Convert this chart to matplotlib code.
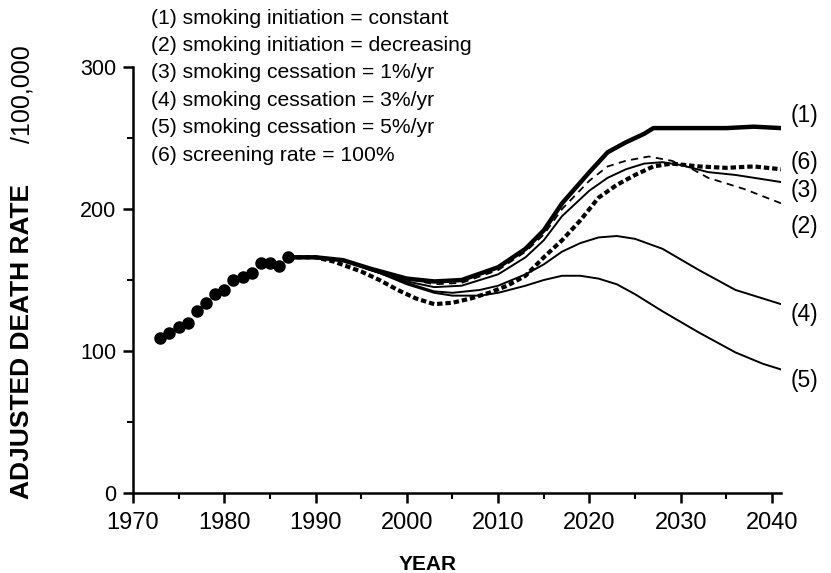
import matplotlib.pyplot as plt
from matplotlib.ticker import MultipleLocator

plt.rcParams['font.family'] = ['Liberation Sans', 'DejaVu Sans']

# observed rates (dots)
obs_years = [1973, 1974, 1975, 1976, 1977, 1978, 1979, 1980, 1981, 1982, 1983, 1984, 1985, 1986, 1987]
obs_rate = [109, 113, 117, 120, 128, 134, 140, 143, 150, 152, 155, 162, 162, 160, 166]

# (1) initiation constant
y1_years = [1987, 1990, 1993, 1996, 2000, 2003, 2006, 2010, 2013, 2015, 2017, 2020, 2022, 2024, 2026, 2027, 2030, 2035, 2038, 2041]
y1_rate = [166, 166, 164, 158, 151, 149, 150, 159, 172, 185, 204, 226, 240, 247, 253, 257, 257, 257, 258, 257]

# (2) initiation decreasing
y2_years = [1987, 1990, 1993, 1996, 2000, 2003, 2006, 2010, 2013, 2015, 2017, 2020, 2022, 2024, 2026.5, 2029, 2031, 2033, 2037, 2041]
y2_rate = [166, 166, 164, 158, 151, 147, 148, 157, 170, 182, 200, 220, 230, 234, 237, 234, 229, 222, 214, 204]

# (3) cessation 1%/yr
y3_years = [1987, 1990, 1993, 1996, 2000, 2003, 2006, 2010, 2013, 2015, 2017, 2020, 2022, 2024, 2026, 2028, 2030, 2033, 2036, 2041]
y3_rate = [166, 166, 164, 157, 149, 145, 146, 154, 166, 178, 195, 213, 222, 228, 232, 233, 231, 226, 224, 219]

# (4) cessation 3%/yr
y4_years = [1987, 1990, 1993, 1997, 2000, 2003, 2005, 2008, 2010, 2013, 2015, 2017, 2019, 2021, 2023, 2025, 2028, 2032, 2036, 2041]
y4_rate = [166, 166, 164, 155, 148, 142, 141, 143, 146, 154, 161, 170, 176, 180, 181, 179, 172, 157, 143, 133]

# (5) cessation 5%/yr
y5_years = [1987, 1990, 1993, 1997, 2000, 2003, 2005, 2008, 2010, 2013, 2015, 2017, 2019, 2021, 2023, 2025, 2028, 2032, 2036, 2039, 2041]
y5_rate = [166, 166, 164, 155, 147, 141, 139, 139, 141, 146, 150, 153, 153, 151, 147, 140, 128, 113, 99, 91, 87]

# (6) screening 100%
y6_years = [1987, 1990, 1992, 1995, 1997, 1999, 2001, 2003, 2005, 2007, 2009, 2011, 2013, 2015, 2017, 2019, 2021, 2023, 2025, 2027, 2029, 2032, 2035, 2038, 2041]
y6_rate = [166, 166, 163, 156, 150, 143, 137, 133, 134, 137, 141, 146, 153, 166, 178, 192, 208, 217, 224, 230, 232, 230, 229, 230, 228]

legend_lines = ['(1) smoking initiation = constant',
                '(2) smoking initiation = decreasing',
                '(3) smoking cessation = 1%/yr',
                '(4) smoking cessation = 3%/yr',
                '(5) smoking cessation = 5%/yr',
                '(6) screening rate = 100%']
end_labels = ['(1)', '(6)', '(3)', '(2)', '(4)', '(5)']
end_label_y = [266, 233, 213, 188, 126, 79]

fig = plt.figure(figsize=(8.31, 5.73), dpi=100)
ax = fig.add_axes([0.160, 0.1396, 0.780, 0.7434])

ax.plot(y5_years, y5_rate, color='black', lw=1.4)
ax.plot(y4_years, y4_rate, color='black', lw=1.4)
ax.plot(y3_years, y3_rate, color='black', lw=1.4)
ax.plot(y2_years, y2_rate, color='black', lw=1.3, ls=(0, (4, 3)))
ax.plot(y6_years, y6_rate, color='black', lw=3.0, ls=(0, (1.3, 0.7)), dash_capstyle='butt')
ax.plot(y1_years, y1_rate, color='black', lw=3.2, solid_capstyle='round')
ax.plot(obs_years, obs_rate, 'o', color='black', ms=8)

ax.set_xlim(1970, 2041)
ax.set_ylim(0, 300)
ax.xaxis.set_major_locator(MultipleLocator(10))
ax.xaxis.set_minor_locator(MultipleLocator(5))
ax.yaxis.set_major_locator(MultipleLocator(100))
ax.yaxis.set_minor_locator(MultipleLocator(50))
ax.tick_params(which='major', direction='out', length=7, width=1.8)
ax.tick_params(which='minor', direction='out', length=4, width=1.5)
ax.tick_params(axis='x', pad=7, labelsize=17)
ax.tick_params(axis='y', pad=5, labelsize=15.5)
for side in ['top', 'right']:
    ax.spines[side].set_visible(False)
for side in ['left', 'bottom']:
    ax.spines[side].set_linewidth(1.8)

for i, t in enumerate(legend_lines):
    fig.text(0.182, 1 - (18 + 27.4 * i) / 573, t, fontsize=15.2, va='center', ha='left')

for t, v in zip(end_labels, end_label_y):
    ax.text(2042.0, v, t, fontsize=16.5, va='center', ha='left', clip_on=False)

fig.text(0.027, 1 - 341 / 573, 'ADJUSTED DEATH RATE', rotation=90, fontsize=19,
         fontweight='bold', va='center', ha='center')
fig.text(0.027, 1 - 94 / 573, '/100,000', rotation=90, fontsize=18,
         va='center', ha='center')
fig.text(428 / 831, 1 - 565 / 573, 'YEAR', fontsize=15, fontweight='bold',
         va='center', ha='center')

fig.savefig('out.png', dpi=100)
